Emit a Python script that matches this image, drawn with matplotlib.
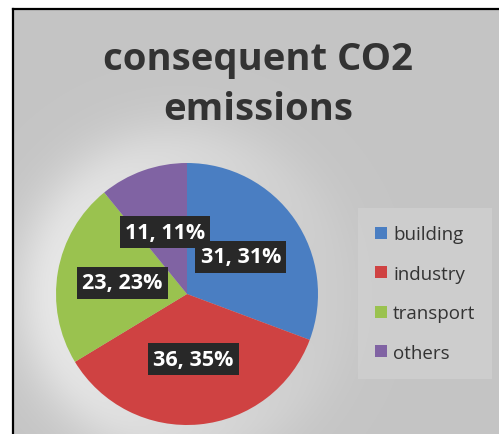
#!/usr/bin/env python3
"""
Pie chart: consequent CO2 emissions by sector
"""

import numpy as np
import matplotlib
matplotlib.use("Agg")
import matplotlib.pyplot as plt
from matplotlib.patches import Patch
from matplotlib.lines import Line2D


# ============================================================================
# Data
# ============================================================================

sectors = ["building", "industry", "transport", "others"]
values = [31, 36, 23, 11]
shown_pct = [31, 35, 23, 11]          # percentages as printed on the chart
colors = ["#4a7ec2", "#cf4242", "#9ac24f", "#8063a3"]

title_lines = ["consequent CO2", "emissions"]


# ============================================================================
# Figure
# ============================================================================

W, H = 499, 435
DPI = 100
TXT = "#333333"

plt.rcParams["font.family"] = ["Open Sans", "DejaVu Sans"]

fig = plt.figure(figsize=(W / DPI, H / DPI), dpi=DPI, facecolor="white")


def px(x, y):
    """pixel coords (origin top-left) -> figure fraction"""
    return x / W, 1 - y / H


# grey panel with a soft light glow mostly on the left of the pie
bg_ax = fig.add_axes([13 / W, 0, 1 - 13 / W, 1 - 10 / H])
bg_ax.set_axis_off()
gw, gh = W - 13, H - 10
yy, xx = np.mgrid[0:gh, 0:gw]
cx, cy, R = 187 - 13, 295 - 10, 132
d = np.hypot(xx - cx, yy - cy)
ang = np.arctan2(yy - cy, xx - cx)
side = (1 - np.cos(ang)) / 2            # 1 on the left, 0 on the right
glow = np.exp(-(np.clip(d - R, 0, None) / 45.0) ** 2) * (d > R - 5)
img = np.clip(0.772 + 0.13 * glow * (0.25 + 0.75 * side), 0, 1)
bg_ax.imshow(np.dstack([img] * 3), aspect="auto", interpolation="bilinear",
             extent=[0, 1, 0, 1], transform=bg_ax.transAxes)

# black frame lines (top and left)
fig.add_artist(Line2D([13 / W, 1], [1 - 10 / H] * 2, color="black", lw=1.6,
                      transform=fig.transFigure))
fig.add_artist(Line2D([13 / W] * 2, [0, 1 - 10 / H], color="black", lw=1.6,
                      transform=fig.transFigure))

# title
fig.text(*px(258, 70), title_lines[0], ha="center", va="baseline",
         fontsize=27.5, fontweight="bold", color=TXT)
fig.text(*px(258, 120), title_lines[1], ha="center", va="baseline",
         fontsize=27.5, fontweight="bold", color=TXT)

# pie
pie_cx, pie_cy, pie_r = 187, 295, 131
ax = fig.add_axes([(pie_cx - pie_r) / W, 1 - (pie_cy + pie_r) / H,
                   2 * pie_r / W, 2 * pie_r / H])
wedges, _ = ax.pie(values, colors=colors, startangle=90, counterclock=False,
                   radius=1.0, wedgeprops=dict(linewidth=0))
ax.set_xlim(-1, 1)
ax.set_ylim(-1, 1)
ax.set_aspect("equal")
ax.set_axis_off()

# data labels
for w, v, p in zip(wedges, values, shown_pct):
    mid = np.deg2rad((w.theta1 + w.theta2) / 2)
    r = 0.5
    ax.text(r * np.cos(mid), r * np.sin(mid), f"{v}, {p}%",
            ha="center", va="center", fontsize=15.5, fontweight="bold",
            color="white",
            bbox=dict(boxstyle="square,pad=0.25", facecolor="#282828",
                      edgecolor="none"))

# legend
handles = [Patch(facecolor=c, edgecolor="none") for c in colors]
leg = fig.legend(handles, sectors, loc="upper left",
                 bbox_to_anchor=px(364, 215), frameon=True,
                 fontsize=13.5, labelcolor=TXT,
                 handlelength=0.6, handleheight=0.6, handletextpad=0.35,
                 labelspacing=1.15, borderpad=0.6, borderaxespad=0)
leg.get_frame().set_facecolor("#d0d0d0")
leg.get_frame().set_edgecolor("none")
leg.get_frame().set_boxstyle("square")

fig.savefig("out.png", dpi=DPI, facecolor="white")
